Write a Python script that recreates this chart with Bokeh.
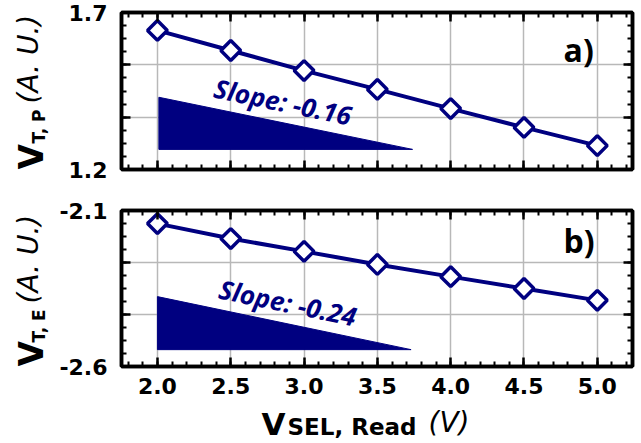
import numpy as np
from bokeh.plotting import figure
from bokeh.layouts import column, row
from bokeh.models import FixedTicker, LinearAxis, Range1d, Label, CustomJSTickFormatter
from bokeh.embed import file_html
from bokeh.resources import INLINE

# ---------------- data ----------------
vsel = [2.0, 2.5, 3.0, 3.5, 4.0, 4.5, 5.0]
vt_p = [1.643, 1.579, 1.515, 1.455, 1.394, 1.334, 1.276]
vt_e = [-2.142, -2.190, -2.231, -2.273, -2.312, -2.350, -2.388]

slope_p_text = "Slope: -0.16"
slope_e_text = "Slope: -0.24"
tri_p_x = [2.01, 2.01, 3.74]
tri_p_y = [1.430, 1.264, 1.264]
tri_e_x = [2.0, 2.0, 3.73]
tri_e_y = [-2.376, -2.546, -2.546]

x_ticks = [2.0, 2.5, 3.0, 3.5, 4.0, 4.5, 5.0]
x_minor = [round(1.8 + 0.1 * i, 2) for i in range(35)]
yp_ticks = [1.2, 1.2 + 0.5 / 3, 1.2 + 1.0 / 3, 1.7]
yp_minor = [1.2 + 0.5 * i / 12 for i in range(13)]
ye_ticks = [-2.6, -2.6 + 0.5 / 3, -2.6 + 1.0 / 3, -2.1]
ye_minor = [-2.6 + 0.5 * i / 12 for i in range(13)]

NAVY = "#000080"
TICK_FONT = "DejaVu Sans"
LEFT_W = 56          # width of the y-title canvases
P_BORDER_L = 65      # panel left border (tick labels)


def style_axis(ax, ticker, show_labels, formatter):
    ax.ticker = ticker
    ax.axis_line_width = 3.5
    ax.axis_line_color = "black"
    ax.major_tick_in = 9
    ax.major_tick_out = 0
    ax.minor_tick_in = 5
    ax.minor_tick_out = 0
    ax.major_tick_line_width = 2.5
    ax.minor_tick_line_width = 2
    ax.major_tick_line_color = "black"
    ax.minor_tick_line_color = "black"
    ax.major_label_text_font = TICK_FONT
    ax.major_label_text_font_style = "bold"
    ax.major_label_text_color = "black"
    if show_labels:
        ax.formatter = formatter
        ax.major_label_text_font_size = "22px"
    else:
        ax.formatter = CustomJSTickFormatter(code="return '';")
        ax.major_label_text_font_size = "1px"
        ax.major_label_standoff = 0


def make_panel(ys, y0, y1, yticks, yminor, tri_x, tri_y, slope_text, slope_xy,
               tag, tag_xy, show_x, height, btop, bbottom):
    p = figure(width=P_BORDER_L + 511 + 8, height=height, output_backend="svg",
               toolbar_location=None,
               x_range=Range1d(1.755, 5.24), y_range=Range1d(y0, y1),
               min_border_left=P_BORDER_L, min_border_right=8,
               min_border_top=btop, min_border_bottom=bbottom,
               x_axis_location=None, y_axis_location=None)
    p.outline_line_color = "black"
    p.outline_line_width = 3.5
    p.background_fill_color = "white"
    p.border_fill_color = "white"

    xt = FixedTicker(ticks=x_ticks, minor_ticks=x_minor)
    yt = FixedTicker(ticks=yticks, minor_ticks=yminor)
    xfmt = CustomJSTickFormatter(code="return tick.toFixed(1);")
    yfmt = CustomJSTickFormatter(
        code="return (index == 0 || index == ticks.length - 1) ? tick.toFixed(1) : '';")

    bottom = LinearAxis()
    style_axis(bottom, xt, show_x, xfmt)
    if show_x:
        bottom.major_label_standoff = 11
    top = LinearAxis()
    style_axis(top, xt, False, xfmt)
    left = LinearAxis()
    style_axis(left, yt, True, yfmt)
    left.major_label_standoff = 14
    right = LinearAxis()
    style_axis(right, yt, False, yfmt)
    p.add_layout(bottom, "below")
    p.add_layout(top, "above")
    p.add_layout(left, "left")
    p.add_layout(right, "right")

    p.xgrid.ticker = xt
    p.ygrid.ticker = yt
    p.xgrid.grid_line_color = "#b8b8b8"
    p.ygrid.grid_line_color = "#b8b8b8"
    p.xgrid.grid_line_width = 1.5
    p.ygrid.grid_line_width = 1.5

    p.patch(tri_x, tri_y, fill_color=NAVY, line_color=NAVY, line_width=1)
    p.line(vsel, ys, line_color=NAVY, line_width=4)
    p.scatter(vsel, ys, marker="square", angle=np.pi / 4, size=14,
              fill_color="white", line_color=NAVY, line_width=3.5)

    p.add_layout(Label(x=slope_xy[0], y=slope_xy[1], text=slope_text, angle=-0.204,
                       text_font="Open Sans", text_font_style="bold italic",
                       text_font_size="26px", text_color=NAVY,
                       text_align="left", text_baseline="middle"))
    p.add_layout(Label(x=tag_xy[0], y=tag_xy[1], text=tag,
                       text_font="Open Sans", text_font_style="bold",
                       text_font_size="32px", text_color="black",
                       text_align="left", text_baseline="middle"))
    return p


def blank(width, height, xr, yr, btop=0, bbottom=0, bleft=0, bright=0):
    f = figure(width=width, height=height, output_backend="svg", toolbar_location=None,
               x_range=Range1d(*xr), y_range=Range1d(*yr),
               min_border_top=btop, min_border_bottom=bbottom,
               min_border_left=bleft, min_border_right=bright,
               x_axis_location=None, y_axis_location=None)
    f.outline_line_color = None
    f.border_fill_color = "white"
    f.background_fill_color = "white"
    for g in f.grid:
        g.visible = False
    return f


def add_text(f, x, y, text, size, style, angle=0.0):
    f.add_layout(Label(x=x, y=y, text=text, angle=angle, text_font=TICK_FONT,
                       text_font_style=style, text_font_size=size, text_color="black",
                       text_align="left", text_baseline="middle"))


p1 = make_panel(vt_p, 1.2, 1.7, yp_ticks, yp_minor, tri_p_x, tri_p_y, slope_p_text,
                (2.389, 1.461), "a)", (4.77, 1.5834), False, 190, 12, 21)
p2 = make_panel(vt_e, -2.6, -2.1, ye_ticks, ye_minor, tri_e_x, tri_e_y, slope_e_text,
                (2.423, -2.350), "b)", (4.77, -2.1949), True, 213, 20, 37)

# y-axis titles: canvases whose frames line up with the panels' frames
# (data units = px; x from the left, y up from the canvas bottom)
yl1 = blank(LEFT_W, 190, (0, LEFT_W), (21, 178), btop=12, bbottom=21)
add_text(yl1, 30.6, 21, "V", "33px", "bold", np.pi / 2)
add_text(yl1, 38.1, 47, "T, P", "17px", "bold", np.pi / 2)
add_text(yl1, 28.3, 87, "(A. U.)", "28px", "italic", np.pi / 2)

yl2 = blank(LEFT_W, 213, (0, LEFT_W), (37, 193), btop=20, bbottom=37)
add_text(yl2, 30.6, 37, "V", "33px", "bold", np.pi / 2)
add_text(yl2, 38.1, 61, "T, E", "17px", "bold", np.pi / 2)
add_text(yl2, 28.3, 100, "(A. U.)", "28px", "italic", np.pi / 2)

# x-axis title: canvas whose frame lines up with the panels' frames
xl_pad = blank(LEFT_W, 39, (0, LEFT_W), (0, 39))
xl = blank(P_BORDER_L + 511 + 8, 39, (0, 511), (0, 39), bleft=P_BORDER_L, bright=8)
add_text(xl, 140, 18.8, "V", "31px", "bold")
add_text(xl, 166, 15.5, "SEL, Read", "23px", "bold")
add_text(xl, 307, 19.7, "(V)", "28px", "italic")

layout = column(row(yl1, p1), row(yl2, p2), row(xl_pad, xl))
open("out.html", "w").write(file_html(layout, INLINE))
